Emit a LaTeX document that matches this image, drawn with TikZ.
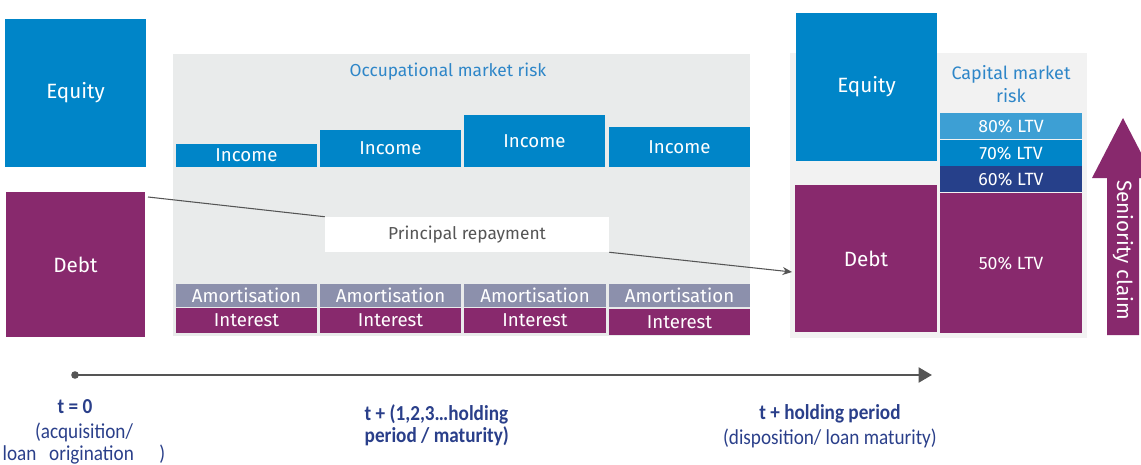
\documentclass[tikz,border=0pt]{standalone}
\usepackage{fontspec}
\setmainfont{Fira Sans}
\newfontfamily\tlfont[FakeStretch=0.9]{Carlito}
\usetikzlibrary{arrows.meta}
\definecolor{cblue}{HTML}{0085C8}
\definecolor{cpurple}{HTML}{88296D}
\definecolor{camort}{HTML}{8C90AC}
\definecolor{cpanel}{HTML}{E9EBEB}
\definecolor{cpanelr}{HTML}{F2F2F2}
\definecolor{clight}{HTML}{3D9FD4}
\definecolor{cnavy}{HTML}{26408A}
\definecolor{ctitle}{HTML}{2E86C8}
\definecolor{ctext}{HTML}{2A3F8A}
\definecolor{cline}{HTML}{555555}
\tikzset{
  box/.style={inner sep=0pt, text=white, font=\fontsize{14pt}{16pt}\selectfont},
  bigbox/.style={box, font=\fontsize{15.5pt}{17pt}\selectfont},
  ltvbox/.style={box, font=\fontsize{13.3pt}{15pt}\selectfont},
  plain/.style={inner sep=0pt},
  link/.style={draw=cline, line width=0.8pt},
  tlbold/.style={text=ctext, font=\tlfont\bfseries\fontsize{16pt}{16.5pt}\selectfont, align=center},
  tlnorm/.style={text=ctext, font=\tlfont\fontsize{16pt}{16.5pt}\selectfont, align=center},
}
% \bx{name}{x1}{y1}{x2}{y2}{style}{text}
\newcommand\bx[7]{%
  \node[#6, minimum width={(#4-#2)*0.75pt}, minimum height={(#5-#3)*0.75pt}]
    (#1) at ({(#2+#4)/2},{(#3+#5)/2}) {#7};}
\begin{document}
\begin{tikzpicture}[x=0.75pt,y=-0.75pt]
\useasboundingbox (0,0) rectangle (1141,464);
% panels
\bx{panel}{173}{54}{750}{336}{plain, fill=cpanel}{}
\bx{panelr}{790}{53}{1087}{338}{plain, fill=cpanelr}{}
\node[text=ctitle, font=\fontsize{13pt}{15pt}\selectfont] (occ) at (448,72) {Occupational market risk};
% left stack
\bx{eqL}{5}{19}{146}{167}{bigbox, fill=cblue}{Equity}
\bx{debtL}{6}{192}{145}{337}{bigbox, fill=cpurple}{Debt}
% income
\bx{inc1}{176}{144}{317}{167}{box, fill=cblue}{Income}
\bx{inc2}{320}{130}{461}{167}{box, fill=cblue}{Income}
\bx{inc3}{464}{115}{605}{167}{box, fill=cblue}{Income}
\bx{inc4}{609}{127}{750}{167}{box, fill=cblue}{Income}
% amortisation
\bx{am1}{176}{284}{317}{307}{box, fill=camort}{Amortisation}
\bx{am2}{320}{284}{461}{307}{box, fill=camort}{Amortisation}
\bx{am3}{464}{284}{606}{307}{box, fill=camort}{Amortisation}
\bx{am4}{609}{284}{750}{307}{box, fill=camort}{Amortisation}
% interest
\bx{in1}{176}{308}{317}{333}{box, fill=cpurple}{Interest}
\bx{in2}{320}{308}{461}{333}{box, fill=cpurple}{Interest}
\bx{in3}{464}{308}{606}{333}{box, fill=cpurple}{Interest}
\bx{in4}{609}{309}{750}{335}{box, fill=cpurple}{Interest}
% principal repayment
\bx{prin}{325}{217}{609}{252}{plain, fill=white, text=cline, font=\fontsize{13pt}{15pt}\selectfont}{Principal repayment}
% right stack
\bx{eqR}{796}{13}{937}{161}{bigbox, fill=cblue}{Equity}
\bx{debtR}{795}{185}{937}{332}{bigbox, fill=cpurple}{Debt}
\node[text=ctitle, align=center, font=\fontsize{13.5pt}{17.5pt}\selectfont] (cmr) at (1011,84) {Capital market\\risk};
\bx{l80}{940}{113}{1082}{139}{ltvbox, fill=clight}{80\% LTV}
\bx{l70}{940}{140}{1082}{166}{ltvbox, fill=cblue}{70\% LTV}
\bx{l60}{940}{166}{1082}{192}{ltvbox, fill=cnavy}{60\% LTV}
\bx{l50}{940}{193}{1082}{333}{ltvbox, fill=cpurple}{50\% LTV}
% seniority arrow
\fill[cpurple] (1107,335) -- (1107,178) -- (1092,178) -- (1123,118) -- (1154,178) -- (1139,178) -- (1139,335) -- cycle;
\node[rotate=-90, text=white, font=\fontsize{15.5pt}{17pt}\selectfont] (sen) at (1123,250) {Seniority claim};
% links
\coordinate (p1) at (148,197);
\coordinate (p2) at (792,272);
\draw[link] (p1) -- (prin.north west);
\draw[link, -{Stealth[length=7pt,width=6pt]}] (prin.south east) -- (p2);
% timeline
\coordinate (t0) at (75,375);
\coordinate (t1) at (932,375);
\draw[cline, line width=2.2pt, -{Triangle[length=10pt,width=11pt]}] (t0) -- (t1);
\fill[cline] (t0) circle[radius=3.8];
\node[tlbold] (lab0) at (75,407) {t = 0};
\node[tlnorm] (lab0b) at (84,444) {(acquisition/\\loan\hspace{0.6em}origination\hspace{1.2em})};
\node[tlbold, align=left, anchor=west] (lab1) at (360,425) {t + (1,2,3\dots holding\\period / maturity)};
\node[tlbold] (lab2) at (830,414) {t + holding period};
\node[tlnorm] (lab2b) at (830,438) {(disposition/ loan maturity)};
\end{tikzpicture}
\end{document}
